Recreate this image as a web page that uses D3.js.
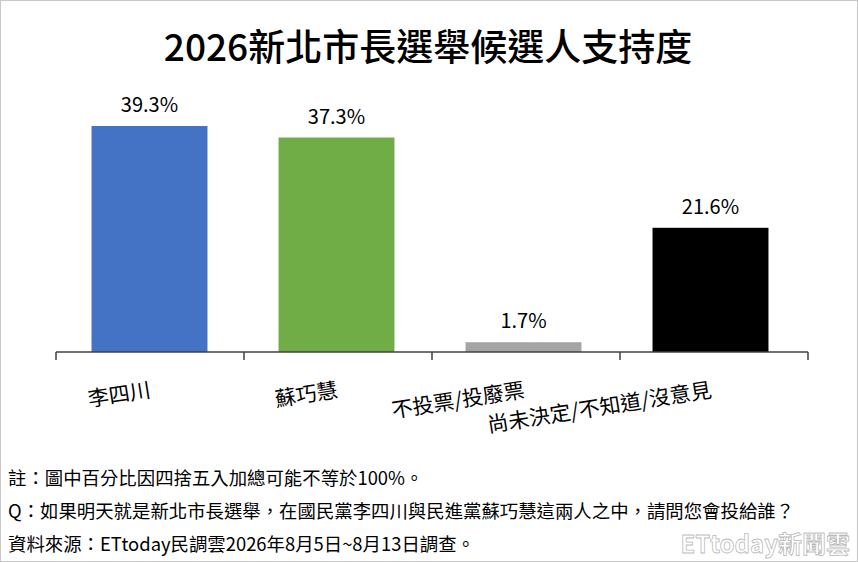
<!DOCTYPE html>
<html>
<head>
<meta charset="utf-8">
<script src="https://cdn.jsdelivr.net/npm/d3@7"></script>
<style>
  body { margin: 0; background: #fff; }
  svg { display: block; font-family: "Noto Sans CJK TC", "Noto Sans", sans-serif; }
</style>
</head>
<body>
<svg id="chart" width="858" height="562"></svg>
<script>
const title = "2026新北市長選舉候選人支持度";
const categories = ["李四川", "蘇巧慧", "不投票/投廢票", "尚未決定/不知道/沒意見"];
const values = [39.3, 37.3, 1.7, 21.6];
const colors = ["#4472c4", "#70ad47", "#a5a5a5", "#000000"];
const notes = [
  "註：圖中百分比因四捨五入加總可能不等於100%。",
  "Q：如果明天就是新北市長選舉，在國民黨李四川與民進黨蘇巧慧這兩人之中，請問您會投給誰？",
  "資料來源：ETtoday民調雲2026年8月5日~8月13日調查。"
];

const svg = d3.select("#chart");
const width = 858, height = 562;

// frame
svg.append("rect")
  .attr("x", 0.5).attr("y", 0.5)
  .attr("width", width - 1).attr("height", height - 1)
  .attr("fill", "#fff").attr("stroke", "#c8c8c8");

svg.append("text")
  .attr("x", 428).attr("y", 61)
  .attr("text-anchor", "middle")
  .attr("font-size", 37).attr("font-weight", 500)
  .attr("fill", "#000")
  .text(title);

const x = d3.scaleBand()
  .domain(categories)
  .range([56, 804])
  .paddingInner(0.38)
  .paddingOuter(0.19);

// axis ticks sit between categories
const xTick = d3.scalePoint()
  .domain(d3.range(categories.length + 1))
  .range([56, 808]);

const y = d3.scaleLinear()
  .domain([0, 45])
  .range([352, 352 - 45 * 5.75]);

// bars
svg.append("g").selectAll("rect")
  .data(values)
  .enter().append("rect")
  .attr("x", (d, i) => x(categories[i]))
  .attr("y", d => y(d))
  .attr("width", x.bandwidth())
  .attr("height", d => y(0) - y(d))
  .attr("fill", (d, i) => colors[i]);

// value labels
svg.append("g").selectAll("text")
  .data(values)
  .enter().append("text")
  .attr("x", (d, i) => x(categories[i]) + x.bandwidth() / 2)
  .attr("y", d => y(d) - 14)
  .attr("text-anchor", "middle")
  .attr("font-size", 20)
  .attr("fill", "#000")
  .text(d => d.toFixed(1) + "%");

const axisG = svg.append("g").attr("transform", `translate(0,${y(0)})`);
axisG.append("line")
  .attr("x1", 56).attr("x2", 808)
  .attr("y1", 0).attr("y2", 0)
  .attr("stroke", "#404040").attr("stroke-width", 1.5);
axisG.selectAll(".tick")
  .data(xTick.domain())
  .enter().append("line")
  .attr("x1", d => xTick(d)).attr("x2", d => xTick(d))
  .attr("y1", 0).attr("y2", 8)
  .attr("stroke", "#404040").attr("stroke-width", 1.5);

// rotated category labels
svg.append("g").selectAll("text")
  .data(categories)
  .enter().append("text")
  .attr("transform", d => `translate(${x(d) + x.bandwidth() / 2 + 2},397) rotate(-9)`)
  .attr("text-anchor", "end")
  .attr("font-size", 21)
  .attr("fill", "#000")
  .text(d => d);

// notes
svg.append("g").selectAll("text")
  .data(notes)
  .enter().append("text")
  .attr("x", 8)
  .attr("y", (d, i) => 485 + i * 33)
  .attr("font-size", 18.4)
  .attr("fill", "#000")
  .text(d => d);

// watermark
svg.append("text")
  .attr("x", 850).attr("y", 553)
  .attr("text-anchor", "end")
  .attr("font-size", 24).attr("font-weight", "bold")
  .attr("fill", "#fff").attr("fill-opacity", 0.85)
  .attr("stroke", "#888").attr("stroke-width", 0.8).attr("stroke-opacity", 0.6)
  .text("ETtoday新聞雲");
</script>
</body>
</html>
